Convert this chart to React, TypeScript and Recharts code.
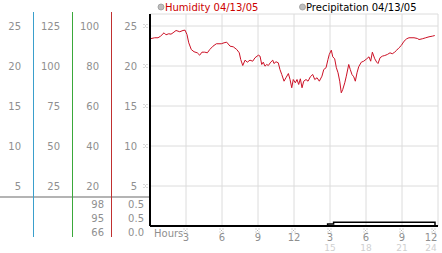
import { CartesianGrid, ComposedChart, Customized, Line, XAxis, YAxis } from "recharts";

const FONT = "'DejaVu Sans', Verdana, sans-serif";
const TEXT = "#8f8f8f";
const FAINT = "#d0d0d0";

// humidity trace, hours since midnight
const hours = [
  0, 0.39, 0.67, 0.88, 1.17, 1.33, 1.56, 1.75, 1.92, 2.17,
  2.48, 2.75, 2.92, 3.08, 3.23, 3.44, 3.67, 3.94, 4.14, 4.33,
  4.56, 4.78, 4.98, 5.25, 5.53, 5.94, 6.17, 6.39, 6.67, 6.94,
  7.23, 7.44, 7.56, 7.73, 7.92, 8.11, 8.33, 8.56, 8.75, 9.03,
  9.17, 9.31, 9.44, 9.58, 9.73, 9.86, 10.06, 10.23, 10.33, 10.5,
  10.69, 10.83, 10.98, 11.17, 11.33, 11.53, 11.67, 11.81, 11.94, 12.11,
  12.25, 12.39, 12.53, 12.67, 12.81, 13.0, 13.17, 13.36, 13.56, 13.73,
  13.92, 14.11, 14.33, 14.48, 14.67, 14.83, 14.94, 15.11, 15.23, 15.39,
  15.53, 15.67, 15.81, 15.94, 16.06, 16.23, 16.36, 16.56, 16.69, 16.83,
  16.98, 17.11, 17.25, 17.39, 17.61, 17.81, 18.06, 18.25, 18.39, 18.53,
  18.73, 18.89, 19.0, 19.17, 19.36, 19.56, 19.78, 20.0, 20.19, 20.39,
  20.56, 20.75, 20.94, 21.17, 21.39, 21.58, 22.0, 22.28, 22.42, 22.69,
  22.98, 23.25, 23.53, 23.73,
];
const humidity = [
  23.4, 23.53, 23.53, 23.73, 24.15, 23.9, 24.03, 23.98, 24.15, 24.44,
  24.28, 24.44, 24.48, 23.94, 22.9, 22.06, 21.78, 21.65, 21.35, 21.73,
  21.73, 21.65, 22.06, 22.48, 22.78, 22.78, 22.9, 22.98, 22.48, 22.4,
  22.06, 21.65, 20.81, 20.06, 20.73, 20.48, 20.73, 20.6, 21.03, 21.35,
  21.23, 20.19, 20.48, 19.98, 20.19, 20.06, 20.48, 20.73, 20.31, 20.53,
  20.4, 19.56, 18.94, 18.1, 18.53, 19.06, 18.31, 17.28, 18.31, 17.9,
  18.31, 17.69, 18.4, 17.28, 18.1, 18.31, 18.1, 18.65, 18.94, 18.31,
  18.53, 18.1, 18.73, 19.56, 19.78, 20.81, 21.44, 21.98, 21.15, 20.9,
  19.78, 19.15, 18.1, 16.65, 17.06, 17.9, 18.73, 20.19, 19.56, 18.94,
  18.65, 18.1, 19.15, 19.9, 20.48, 20.6, 20.9, 21.15, 20.6, 21.73,
  20.9, 20.48, 20.31, 21.03, 21.23, 21.31, 21.44, 21.65, 21.53, 21.73,
  21.98, 22.28, 22.56, 23.1, 23.4, 23.53, 23.53, 23.44, 23.31, 23.4,
  23.53, 23.65, 23.73, 23.81,
];

// precipitation steps
const rainHours = [0, 14.8, 15.3, 23.75, 23.75];
const rain = [0, 0.02, 0.035, 0.035, 0];

const hourTicks = [3, 6, 9, 12, 15, 18, 21, 24];
const hourLabels = ["3", "6", "9", "12", "3", "6", "9", "12"];
const hourLabels24 = ["", "", "", "", "15", "18", "21", "24"];

const humTicks = [5, 10, 15, 20, 25];
const col1Labels = ["5", "10", "15", "20", "25"];
const col2Labels = ["25", "50", "75", "100", "125"];
const col3Labels = ["20", "40", "60", "80", "100"];
const col4Labels = ["5", "10", "15", "20", "25"];
const col3Stats = ["98", "95", "66"];
const col4Stats = ["0.5", "0.5", "0.0"];

const humData = hours.map((h, i) => ({ hour: h, humidity: humidity[i] }));
const rainData = rainHours.map((h, i) => ({ hour: h, rain: rain[i] }));

// little dotted tick mark
function Mark({ x, y }: { x: number; y: number }) {
  const c = "#b0b0b0";
  return (
    <g fill={c}>
      <rect x={x - 2} y={y - 2} width={1} height={1} />
      <rect x={x + 1} y={y - 2} width={1} height={1} />
      <rect x={x - 0.5} y={y - 0.5} width={1} height={1} />
      <rect x={x - 2} y={y + 1} width={1} height={1} />
      <rect x={x + 1} y={y + 1} width={1} height={1} />
    </g>
  );
}

function HumidityTick({ y, payload }: any) {
  const i = humTicks.indexOf(payload.value);
  return (
    <g fontFamily={FONT} fontSize={10} fill={TEXT}>
      <text x={21} y={y} textAnchor="end" dominantBaseline="central">{col1Labels[i]}</text>
      <text x={60} y={y} textAnchor="end" dominantBaseline="central">{col2Labels[i]}</text>
      <text x={99} y={y} textAnchor="end" dominantBaseline="central">{col3Labels[i]}</text>
      <text x={137} y={y} textAnchor="end" dominantBaseline="central">{col4Labels[i]}</text>
      <Mark x={145.5} y={y} />
    </g>
  );
}

function HourTick({ x, payload }: any) {
  const i = hourTicks.indexOf(payload.value);
  const shift = payload.value === 24 ? -3 : 0;
  return (
    <g fontFamily={FONT} textAnchor="middle">
      <Mark x={x - 0.5} y={230.5} />
      <text x={x + shift} y={237} fontSize={10} fill={TEXT} dominantBaseline="central">{hourLabels[i]}</text>
      {hourLabels24[i] ? (
        <text x={x + shift} y={248} fontSize={9} fill={FAINT} dominantBaseline="central">{hourLabels24[i]}</text>
      ) : null}
    </g>
  );
}

function Decor() {
  return (
    <g fontFamily={FONT}>
      <line x1={0} x2={150} y1={197} y2={197} stroke="#b4b4b4" strokeWidth={2} />
      <line x1={33.5} x2={33.5} y1={12} y2={237} stroke="#3a9fcc" />
      <line x1={72.5} x2={72.5} y1={12} y2={237} stroke="#3aa83a" />
      <line x1={111.5} x2={111.5} y1={12} y2={237} stroke="#c03030" />
      {col3Stats.map((s, i) => (
        <text key={"a" + i} x={104} y={204 + i * 14} fontSize={10} fill={TEXT} textAnchor="end" dominantBaseline="central">{s}</text>
      ))}
      {col4Stats.map((s, i) => (
        <text key={"b" + i} x={144} y={204 + i * 14} fontSize={10} fill={TEXT} textAnchor="end" dominantBaseline="central">{s}</text>
      ))}
      <text x={154} y={233} fontSize={10} fill={TEXT} dominantBaseline="central">Hours</text>
      <circle cx={161} cy={7} r={3} fill="#bdbdbd" stroke="#9a9a9a" strokeWidth={0.8} />
      <text x={165} y={7} fontSize={10} fill="#cc0000" dominantBaseline="central">Humidity 04/13/05</text>
      <circle cx={302.5} cy={7} r={3} fill="#bdbdbd" stroke="#9a9a9a" strokeWidth={0.8} />
      <text x={306} y={7} fontSize={10} fill="#000" dominantBaseline="central">Precipitation 04/13/05</text>
    </g>
  );
}

export default function App() {
  return (
    <div style={{ position: "absolute", left: 0, top: 0, width: 442, height: 253, background: "#fff" }}>
      <ComposedChart width={442} height={253} margin={{ top: 14, right: 4, bottom: 0, left: 0 }}>
        <CartesianGrid stroke="#dcdcdc" />
        <XAxis
          dataKey="hour"
          type="number"
          domain={[0, 24]}
          ticks={hourTicks}
          allowDataOverflow
          height={27}
          axisLine={{ stroke: "#000", strokeWidth: 2 }}
          tickLine={false}
          tick={<HourTick />}
        />
        <YAxis
          type="number"
          domain={[0, 26.5]}
          ticks={humTicks}
          width={150}
          allowDataOverflow
          axisLine={{ stroke: "#000", strokeWidth: 2 }}
          tickLine={false}
          tick={<HumidityTick />}
        />
        <YAxis yAxisId="rain" type="number" domain={[0, 2]} hide allowDataOverflow />
        <Line
          data={rainData}
          dataKey="rain"
          yAxisId="rain"
          type="stepAfter"
          stroke="#000"
          strokeWidth={1.5}
          dot={false}
          isAnimationActive={false}
        />
        <Line
          data={humData}
          dataKey="humidity"
          type="linear"
          stroke="#cc1126"
          strokeWidth={1}
          dot={false}
          isAnimationActive={false}
        />
        <Customized component={Decor} />
      </ComposedChart>
    </div>
  );
}
